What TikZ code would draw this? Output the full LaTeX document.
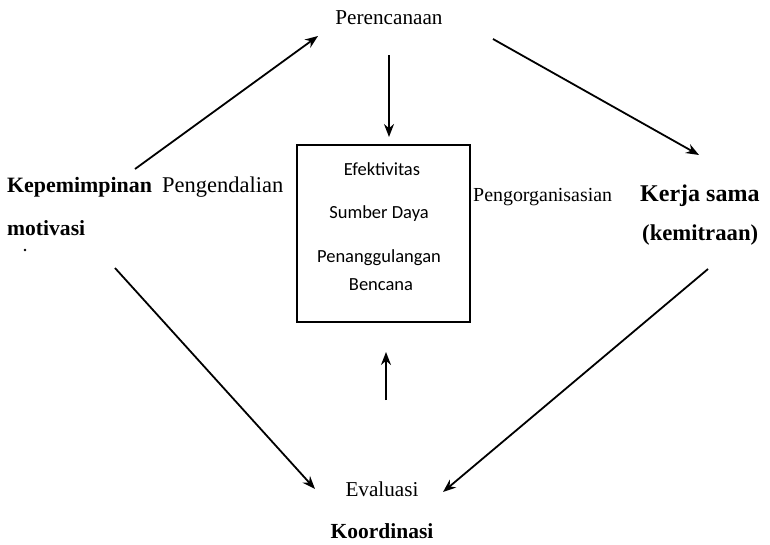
\documentclass[tikz,border=0pt]{standalone}
\usepackage{fontspec}
\setmainfont{Liberation Serif}
\newfontfamily\boxfont{Carlito}
\usetikzlibrary{arrows.meta}
\tikzset{
  lbl/.style={inner sep=0pt, font=#1},
  conn/.style={line width=1.8pt, -{Stealth[length=13pt,width=10pt]}},
  boxtxt/.style={inner sep=0pt, anchor=base, font=\boxfont\fontsize{18.5}{20}\selectfont},
  frame/.style={draw, line width=1.6pt, minimum width=173pt, minimum height=177pt, inner sep=0pt}
}
\begin{document}
\begin{tikzpicture}[x=1pt,y=-1pt]
\useasboundingbox (0,0) rectangle (770,544);
% texts
\node[lbl=\fontsize{21.2}{24}\selectfont, anchor=base] (plan) at (389,24) {Perencanaan};
\node[lbl=\bfseries\fontsize{21.9}{24}\selectfont, anchor=base west] (lead) at (7,192) {Kepemimpinan};
\node[lbl=\bfseries\fontsize{21.6}{24}\selectfont, anchor=base west] (moti) at (7,235) {motivasi};
\node[lbl=\fontsize{22.5}{24}\selectfont, anchor=base west] (ctrl) at (162,192) {Pengendalian};
\node[lbl=\fontsize{19.9}{24}\selectfont, anchor=base west] (org) at (473,201) {Pengorganisasian};
\node[lbl=\bfseries\fontsize{24}{26}\selectfont, anchor=base west] (kerja) at (640,201) {Kerja sama};
\node[lbl=\bfseries\fontsize{22.7}{24}\selectfont, anchor=base west] (mitra) at (642,240) {(kemitraan)};
\node[lbl=\fontsize{21.2}{24}\selectfont, anchor=base] (eval) at (382,496) {Evaluasi};
\node[lbl=\bfseries\fontsize{21.5}{24}\selectfont, anchor=base] (koor) at (382,538) {Koordinasi};
% central box
\node[frame] (box) at (383.5,233.5) {};
\node[boxtxt] (t1) at (382,175) {Efektivitas};
\node[boxtxt] (t2) at (379,218) {Sumber Daya};
\node[boxtxt] (t3) at (379,262) {Penanggulangan};
\node[boxtxt] (t4) at (381,290) {Bencana};
% small dot
\fill (25,250) circle (1.3pt) coordinate (dot);
% connector end points
\coordinate (a1s) at (135,169); \coordinate (a1e) at (318,36);
\coordinate (a2s) at (493,39);  \coordinate (a2e) at (699,155);
\coordinate (a3s) at (389,55);  \coordinate (a3e) at (389,137);
\coordinate (a4s) at (386,400); \coordinate (a4e) at (386,352);
\coordinate (a5s) at (115,268); \coordinate (a5e) at (315,489);
\coordinate (a6s) at (708,269); \coordinate (a6e) at (443,492);
\draw[conn] (a1s) -- (a1e);
\draw[conn] (a2s) -- (a2e);
\draw[conn] (a3s) -- (a3e);
\draw[conn] (a4s) -- (a4e);
\draw[conn] (a5s) -- (a5e);
\draw[conn] (a6s) -- (a6e);
\end{tikzpicture}
\end{document}
